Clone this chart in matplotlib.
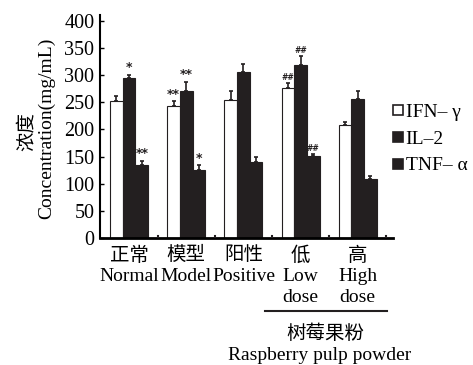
import matplotlib
matplotlib.use("Agg")
import matplotlib.pyplot as plt
import numpy as np
from matplotlib.lines import Line2D

plt.rcParams['font.family'] = ['Liberation Serif', 'Noto Sans CJK SC']

groups = ["正常\nNormal", "模型\nModel", "阳性\nPositive", "低\nLow\ndose", "高\nHigh\ndose"]
series = ["IFN– γ", "IL–2", "TNF– α"]
ifn = [252, 244, 255, 276, 208]
ifn_err = [9, 8, 16, 10, 5]
il2 = [294, 271, 305, 318, 256]
il2_err = [7, 17, 16, 18, 15]
tnf = [134, 126, 140, 151, 109]
tnf_err = [8, 8, 10, 4, 5]
marks = [["", "*", "**"], ["**", "**", "*"], ["", "", ""], ["##", "##", "##"], ["", "", ""]]

fig = plt.figure(figsize=(4.73, 3.65), dpi=100)
ax = fig.add_axes([0.2114, 0.348, 0.6197, 0.611])

x = np.arange(len(groups))
w = 0.222
colors = ['white', '#231f20', '#231f20']
for k, (vals, errs) in enumerate([(ifn, ifn_err), (il2, il2_err), (tnf, tnf_err)]):
    xs = x + (k - 1) * w
    ax.bar(xs, vals, width=w, color=colors[k], edgecolor='#231f20', linewidth=0.8, zorder=2)
    ax.errorbar(xs, vals, yerr=[np.zeros(len(vals)), errs], fmt='none', ecolor='#231f20',
                elinewidth=1.2, capsize=1.5, capthick=1.2, zorder=3)
    for i in range(len(groups)):
        m = marks[i][k]
        if m:
            fs = 5.5 if m == "##" else 9
            ax.text(xs[i], vals[i] + errs[i] + 1, m, ha='center', va='bottom',
                    fontsize=fs, fontweight='bold', color='#231f20',
                    family='DejaVu Sans')

# small marks between groups on baseline
for xm in [0.5, 1.5, 2.5, 3.5, 4.5]:
    ax.plot([xm, xm], [0, 4], color='#231f20', lw=1.5, zorder=3)

ax.set_xlim(-0.51, 4.62)
ax.set_ylim(0, 411)
ax.set_yticks(np.arange(0, 401, 50))
ax.tick_params(axis='y', direction='in', length=3, width=1, labelsize=14.5, pad=4)
ax.set_xticks(x)
ax.set_xticklabels(groups, fontsize=14, linespacing=1.28)
ax.tick_params(axis='x', length=0, pad=6)
for s in ['top', 'right']:
    ax.spines[s].set_visible(False)
ax.spines['left'].set_linewidth(1.5)
ax.spines['bottom'].set_linewidth(2)

fig.text(0.056, 0.64, "浓度", rotation=90, ha='center', va='center', fontsize=14)
fig.text(0.098, 0.648, "Concentration(mg/mL)", rotation=90, ha='center', va='center', fontsize=14)

# bracket under low/high dose
fig.add_artist(Line2D([265 / 473, 387 / 473], [1 - 311 / 365, 1 - 311 / 365], color='#231f20', lw=1.5))
fig.text(325 / 473, 1 - 334 / 365, "树莓果粉", ha='center', va='center', fontsize=14)
fig.text(320 / 473, 1 - 356 / 365, "Raspberry pulp powder", ha='center', va='center', fontsize=14)

handles = [Line2D([], [], marker='s', ls='none', markersize=7, markerfacecolor=c,
                  markeredgecolor='#231f20', markeredgewidth=1.2) for c in colors]
fig.legend(handles, series, loc='upper left', bbox_to_anchor=(393 / 473, 1 - 103 / 365),
           frameon=False, fontsize=14, handlelength=0.55, handletextpad=0.1,
           labelspacing=0.48, borderpad=0, borderaxespad=0)

fig.savefig("out.png", dpi=100)
